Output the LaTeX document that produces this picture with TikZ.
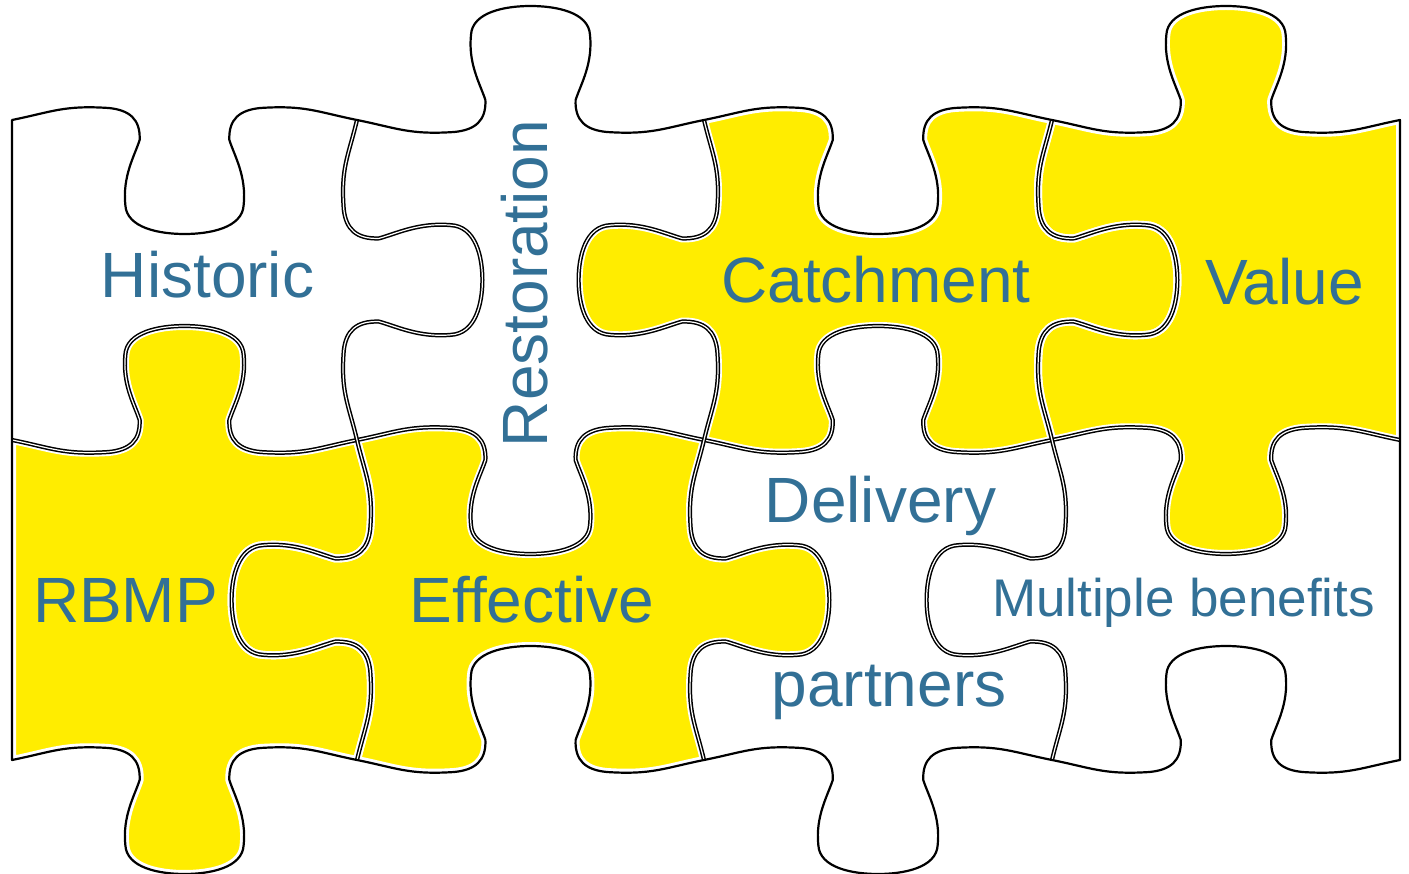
\documentclass[tikz,border=0pt]{standalone}
\usepackage{fontspec}
\setmainfont{Liberation Sans}
\definecolor{pz}{HTML}{FFED00}
\definecolor{tx}{HTML}{327096}
\makeatletter
\pgfmathdeclarefunction{mixp}{3}{%
  \begingroup\pgfmathparse{(#1+#2)/2+(#3)*(#2-#1)/2}\pgfmath@smuggleone\pgfmathresult\endgroup}
\makeatother
% horizontal edge from (#1,#3) to (#2,#3); tab towards sign #4 (+1 = down)
\newcommand\hedge[4]{%
 .. controls ({mixp(#1,#2,-0.77)},{#3+(#4)*(-8)}) and ({mixp(#1,#2,-0.70)},{#3+(#4)*(-15)}) .. ({mixp(#1,#2,-0.44)},{#3+(#4)*(-12)})
 .. controls ({mixp(#1,#2,-0.32)},{#3+(#4)*(-10)}) and ({mixp(#1,#2,-0.255)},{#3+(#4)*(-1)}) .. ({mixp(#1,#2,-0.26)},{#3+(#4)*20})
 .. controls ({mixp(#1,#2,-0.29)},{#3+(#4)*36}) and ({mixp(#1,#2,-0.36)},{#3+(#4)*56}) .. ({mixp(#1,#2,-0.343)},{#3+(#4)*85})
 .. controls ({mixp(#1,#2,-0.336)},{#3+(#4)*108}) and ({mixp(#1,#2,-0.145)},{#3+(#4)*114}) .. ({mixp(#1,#2,0)},{#3+(#4)*114})
 .. controls ({mixp(#1,#2,0.145)},{#3+(#4)*114}) and ({mixp(#1,#2,0.336)},{#3+(#4)*108}) .. ({mixp(#1,#2,0.343)},{#3+(#4)*85})
 .. controls ({mixp(#1,#2,0.36)},{#3+(#4)*56}) and ({mixp(#1,#2,0.29)},{#3+(#4)*36}) .. ({mixp(#1,#2,0.26)},{#3+(#4)*20})
 .. controls ({mixp(#1,#2,0.255)},{#3+(#4)*(-1)}) and ({mixp(#1,#2,0.32)},{#3+(#4)*(-10)}) .. ({mixp(#1,#2,0.44)},{#3+(#4)*(-12)})
 .. controls ({mixp(#1,#2,0.70)},{#3+(#4)*(-15)}) and ({mixp(#1,#2,0.77)},{#3+(#4)*(-8)}) .. (#2,#3)}
% vertical edge from (#3,#1) to (#3,#2); tab towards sign #4 (+1 = right)
\newcommand\vedge[4]{%
 .. controls ({#3+(#4)*(-8.8)},{mixp(#1,#2,-0.77)}) and ({#3+(#4)*(-16.5)},{mixp(#1,#2,-0.70)}) .. ({#3+(#4)*(-13.2)},{mixp(#1,#2,-0.44)})
 .. controls ({#3+(#4)*(-11)},{mixp(#1,#2,-0.32)}) and ({#3+(#4)*(-1.1)},{mixp(#1,#2,-0.255)}) .. ({#3+(#4)*22},{mixp(#1,#2,-0.26)})
 .. controls ({#3+(#4)*39.6},{mixp(#1,#2,-0.29)}) and ({#3+(#4)*61.6},{mixp(#1,#2,-0.36)}) .. ({#3+(#4)*93.5},{mixp(#1,#2,-0.343)})
 .. controls ({#3+(#4)*118.8},{mixp(#1,#2,-0.336)}) and ({#3+(#4)*125.4},{mixp(#1,#2,-0.145)}) .. ({#3+(#4)*125.4},{mixp(#1,#2,0)})
 .. controls ({#3+(#4)*125.4},{mixp(#1,#2,0.145)}) and ({#3+(#4)*118.8},{mixp(#1,#2,0.336)}) .. ({#3+(#4)*93.5},{mixp(#1,#2,0.343)})
 .. controls ({#3+(#4)*61.6},{mixp(#1,#2,0.36)}) and ({#3+(#4)*39.6},{mixp(#1,#2,0.29)}) .. ({#3+(#4)*22},{mixp(#1,#2,0.26)})
 .. controls ({#3+(#4)*(-1.1)},{mixp(#1,#2,0.255)}) and ({#3+(#4)*(-11)},{mixp(#1,#2,0.32)}) .. ({#3+(#4)*(-13.2)},{mixp(#1,#2,0.44)})
 .. controls ({#3+(#4)*(-16.5)},{mixp(#1,#2,0.70)}) and ({#3+(#4)*(-8.8)},{mixp(#1,#2,0.77)}) .. (#3,#2)}
% yellow pieces
\newcommand\pcCatch{(704,120) \hedge{704}{1052}{120}{1} \vedge{120}{440}{1052}{1} \hedge{1052}{704}{440}{-1} \vedge{440}{120}{704}{-1} -- cycle}
\newcommand\pcValue{(1052,120) \hedge{1052}{1400}{120}{-1} -- (1400,440) \hedge{1400}{1052}{440}{1} \vedge{440}{120}{1052}{1} -- cycle}
\newcommand\pcRbmp{(12,440) \hedge{12}{357}{440}{-1} \vedge{440}{760}{357}{-1} \hedge{357}{12}{760}{1} -- cycle}
\newcommand\pcEff{(357,440) \hedge{357}{704}{440}{1} \vedge{440}{760}{704}{1} \hedge{704}{357}{760}{-1} \vedge{760}{440}{357}{-1} -- cycle}
\tikzset{
  outerline/.style={draw=black, line width=2.2pt, line join=round},
  innerline/.style={draw=black, line width=1.5pt, double=white, double distance=1.2pt, line join=round},
  margin/.style={draw=white, line width=8pt, line join=round},
  word/.style={text=tx, anchor=base, inner sep=0pt, font=\fontsize{64}{64}\selectfont},
}
\begin{document}
\begin{tikzpicture}[x=1pt, y=-1pt]
\useasboundingbox (0,0) rectangle (1409,874);
% fills
\fill[pz] \pcCatch;
\fill[pz] \pcValue;
\fill[pz] \pcRbmp;
\fill[pz] \pcEff;
% white margins inside yellow pieces
\path[margin] \pcCatch;
\path[margin] \pcValue;
\path[margin] \pcRbmp;
\path[margin] \pcEff;
% inner edges
\path[innerline] (12,440) \hedge{12}{357}{440}{-1} \hedge{357}{704}{440}{1} \hedge{704}{1052}{440}{-1} \hedge{1052}{1400}{440}{1};
\path[innerline] (357,120) \vedge{120}{440}{357}{1} \vedge{440}{760}{357}{-1};
\path[innerline] (704,120) \vedge{120}{440}{704}{-1} \vedge{440}{760}{704}{1};
\path[innerline] (1052,120) \vedge{120}{440}{1052}{1} \vedge{440}{760}{1052}{-1};
% outer border
\path[outerline] (12,120) \hedge{12}{357}{120}{1} \hedge{357}{704}{120}{-1} \hedge{704}{1052}{120}{1} \hedge{1052}{1400}{120}{-1}
  -- (1400,760) \hedge{1400}{1052}{760}{-1} \hedge{1052}{704}{760}{1} \hedge{704}{357}{760}{-1} \hedge{357}{12}{760}{1} -- cycle;
% words
\node[word] (historic) at (207.5,298) {Historic};
\node[word, rotate=90] (restoration) at (547,283.5) {Restoration};
\node[word] (catchment) at (876,303) {Catchment};
\node[word] (value) at (1284.5,305) {Value};
\node[word] (rbmp) at (125.5,622) {RBMP};
\node[word] (effective) at (532,622) {Effective};
\node[word] (delivery) at (880.5,522) {Delivery};
\node[word] (partners) at (889,706) {partners};
\node[word, font=\fontsize{53}{53}\selectfont] (multiple) at (1183.5,616) {Multiple benefits};
\end{tikzpicture}
\end{document}
